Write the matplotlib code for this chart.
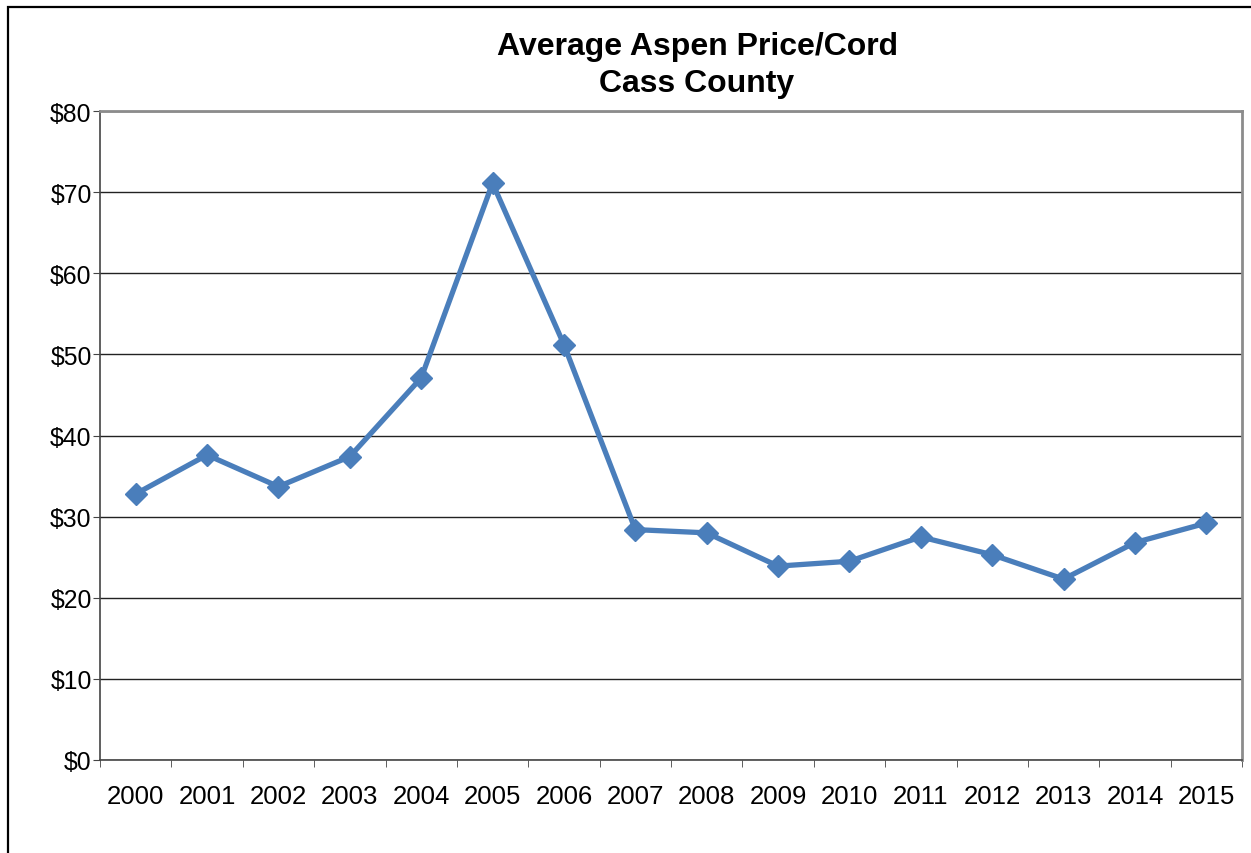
import matplotlib.pyplot as plt
from matplotlib.patches import Rectangle

years = [str(y) for y in range(2000, 2016)]
prices = [32.8, 37.6, 33.7, 37.4, 47.1, 71.1, 51.2, 28.4,
          28.0, 23.9, 24.5, 27.5, 25.3, 22.3, 26.8, 29.2]
yticks = [0, 10, 20, 30, 40, 50, 60, 70, 80]

plt.rcParams['font.family'] = ['Liberation Sans', 'DejaVu Sans']

fig = plt.figure(figsize=(12.51, 8.54), dpi=100)
ax = fig.add_axes([100 / 1251, 1 - 761 / 854, 1142 / 1251, 649 / 854])

# outer chart border (left/top visible, rest runs off the picture)
fig.patches.append(Rectangle((8 / 1251, -0.1), 1.2, 1 - 8 / 854 + 0.1,
                             transform=fig.transFigure, fill=False,
                             ec='black', lw=1.6))

x = list(range(len(years)))
ax.plot(x, prices, color='#4A7EBB', lw=3.8, marker='D', markersize=11.5,
        markeredgecolor='#4A7EBB', zorder=3, clip_on=False)

ax.set_xlim(-0.5, len(years) - 0.5)
ax.set_ylim(0, 80)
ax.set_yticks(yticks)
ax.set_yticklabels([f'${v}' for v in yticks])
ax.yaxis.grid(True, color='#222222', lw=1)
ax.set_axisbelow(True)

ax.set_xticks(x)
ax.set_xticklabels(years)
ax.set_xticks([i - 0.5 for i in range(len(years) + 1)], minor=True)
ax.tick_params(axis='x', which='major', length=0, labelsize=18.5, pad=17)
ax.tick_params(axis='x', which='minor', length=5, color='#444444', direction='out')
ax.tick_params(axis='y', length=5, color='#444444', labelsize=17.8, pad=1)

for side in ('left', 'bottom'):
    ax.spines[side].set_color('#444444')
    ax.spines[side].set_linewidth(1.2)
for side in ('top', 'right'):
    ax.spines[side].set_color('#8c8c8c')
    ax.spines[side].set_linewidth(2)

fig.text(697 / 1251, 1 - 47 / 854, 'Average Aspen Price/Cord', ha='center',
         va='center', fontsize=23, fontweight='bold')
fig.text(697 / 1251, 1 - 84 / 854, 'Cass County', ha='center',
         va='center', fontsize=23, fontweight='bold')

fig.savefig('out.png', dpi=100, facecolor='white')
